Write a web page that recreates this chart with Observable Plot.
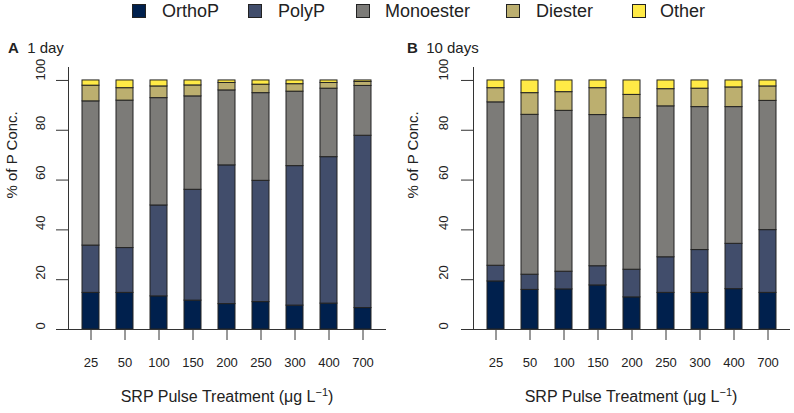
<!DOCTYPE html>
<html>
<head>
<meta charset="utf-8">
<script src="https://cdn.jsdelivr.net/npm/d3@7"></script>
<script src="https://cdn.jsdelivr.net/npm/@observablehq/plot@0.6"></script>
<style>
  html, body { margin: 0; padding: 0; background: #fff; }
  #root { position: relative; width: 794px; height: 413px; font-family: "Liberation Sans", Arial, sans-serif; color: #222; overflow: hidden; }
  .abs { position: absolute; white-space: nowrap; }
  .sw { position: absolute; width: 12px; height: 12px; border: 1px solid #222; }
  .lt { position: absolute; font-size: 18px; line-height: 22px; white-space: nowrap; }
  .ttl { position: absolute; font-size: 15px; line-height: 18px; white-space: nowrap; }
  .xt { position: absolute; font-size: 16px; line-height: 20px; transform: translateX(-50%); white-space: nowrap; }
  .xt sup { font-size: 11px; vertical-align: 6px; line-height: 0; }
</style>
</head>
<body>
<div id="root"></div>
<script>
// ---- data ----
const treatments = ["25", "50", "100", "150", "200", "250", "300", "400", "700"];
const components = ["OrthoP", "PolyP", "Monoester", "Diester", "Other"];
const colors = ["#00204D", "#414D6B", "#7C7B78", "#BCAF6F", "#FFEA46"];
const yTicks = [0, 20, 40, 60, 80, 100];

// Panel A: 1 day (% of P concentration per fraction)
const day1_OrthoP    = [14.7, 14.7, 13.3, 11.6, 10.2, 11.0,  9.6, 10.4,  8.6];
const day1_PolyP     = [19.0, 18.0, 36.5, 44.5, 55.7, 48.7, 56.0, 58.8, 69.2];
const day1_Monoester = [57.9, 59.2, 43.1, 37.5, 30.1, 35.2, 29.9, 27.5, 20.0];
const day1_Diester   = [ 6.3,  5.0,  4.7,  4.4,  3.0,  3.4,  3.0,  2.3,  1.6];
const day1_Other     = [ 2.1,  3.1,  2.4,  2.0,  1.0,  1.7,  1.5,  1.0,  0.6];

// Panel B: 10 days
const day10_OrthoP    = [19.3, 15.9, 16.1, 17.7, 12.9, 14.7, 14.7, 16.2, 14.7];
const day10_PolyP     = [ 6.3,  6.1,  7.1,  7.7, 11.1, 14.3, 17.2, 18.2, 25.2];
const day10_Monoester = [65.6, 64.2, 64.6, 60.7, 60.9, 60.6, 57.4, 54.9, 51.9];
const day10_Diester   = [ 5.7,  8.7,  7.5, 10.8,  9.3,  6.9,  7.4,  7.9,  5.8];
const day10_Other     = [ 3.1,  5.1,  4.7,  3.1,  5.8,  3.5,  3.3,  2.8,  2.4];

function longForm(series) {
  const rows = [];
  components.forEach((c, ci) => {
    series[ci].forEach((v, i) => rows.push({t: treatments[i], c, v}));
  });
  return rows;
}
const dataA = longForm([day1_OrthoP, day1_PolyP, day1_Monoester, day1_Diester, day1_Other]);
const dataB = longForm([day10_OrthoP, day10_PolyP, day10_Monoester, day10_Diester, day10_Other]);

const root = document.getElementById("root");
function el(tag, cls, style, html) {
  const e = document.createElement(tag);
  if (cls) e.className = cls;
  Object.assign(e.style, style);
  if (html != null) e.innerHTML = html;
  root.appendChild(e);
  return e;
}

// ---- legend ----
const swX = [132, 248, 356, 506, 632];
const txX = [162, 278, 385, 536, 660];
components.forEach((c, i) => {
  el("div", "sw", {left: swX[i] + "px", top: "4px", background: colors[i]});
  el("div", "lt", {left: txX[i] + "px", top: "0px"}, c);
});

// ---- panel titles ----
el("div", "ttl", {left: "8px", top: "39px"}, "<b>A</b>&nbsp; 1 day");
el("div", "ttl", {left: "407px", top: "39px"}, "<b>B</b>&nbsp; 10 days");

function panel(data, left, mL, mR, yLabDx, yTitleDx) {
  const chart = Plot.plot({
    width: 397,
    height: 389,
    marginLeft: mL,
    marginRight: mR,
    marginTop: 43,
    marginBottom: 84,
    style: {fontFamily: '"Liberation Sans", Arial, sans-serif', fontSize: "13px", color: "#222", background: "transparent", overflow: "visible"},
    x: {type: "band", domain: treatments, paddingInner: 0.49, paddingOuter: 0.35, label: null},
    y: {domain: [0, 105.2], label: null},
    color: {domain: components, range: colors},
    marks: [
      Plot.barY(data, {x: "t", y: "v", fill: "c", stroke: "#222", strokeWidth: 1}),
      Plot.ruleY([0], {stroke: "#333"}),
      Plot.frame({anchor: "left", stroke: "#333"}),
      Plot.axisY({ticks: yTicks, tickSize: 12, tickFormat: () => "", label: null, stroke: "#333"}),
      Plot.text(yTicks, {y: d => d, text: d => String(d), frameAnchor: "left", dx: yLabDx, rotate: -90, fontSize: 13, fill: "#222"}),
      Plot.text(["% of P Conc."], {frameAnchor: "left", dx: yTitleDx, rotate: -90, fontSize: 15, fill: "#222"}),
      Plot.axisX({tickSize: 11, tickPadding: 17, fontSize: 13, label: null, stroke: "#333"})
    ]
  });
  const wrap = el("div", "abs", {left: left + "px", top: "24px"});
  wrap.appendChild(chart);
  return chart;
}

panel(dataA, 0, 68, 11, -28, -56);
panel(dataB, 397, 76, 4, -30, -60);

// ---- x axis titles ----
el("div", "xt", {left: "227px", top: "387px"}, "SRP Pulse Treatment (&mu;g L<sup>&minus;1</sup>)");
el("div", "xt", {left: "631px", top: "387px"}, "SRP Pulse Treatment (&mu;g L<sup>&minus;1</sup>)");
</script>
</body>
</html>
